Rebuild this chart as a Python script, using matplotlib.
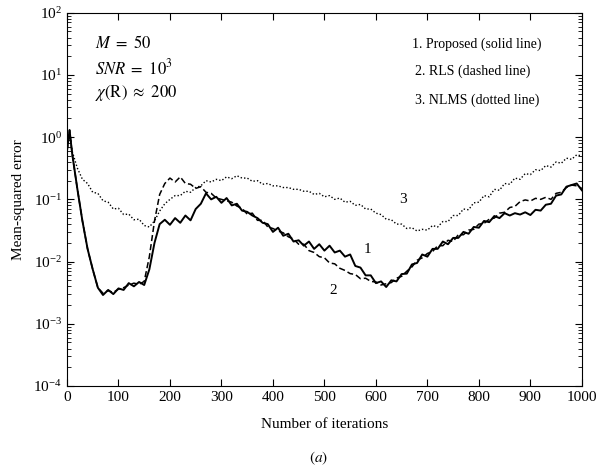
import numpy as np
import matplotlib
matplotlib.use("Agg")
import matplotlib.pyplot as plt
from matplotlib.ticker import LogLocator, NullFormatter

plt.rcParams['font.family'] = ['Liberation Serif', 'DejaVu Serif']
plt.rcParams['mathtext.fontset'] = 'stix'

# iteration index of each sample
iters = [0, 5] + list(range(10, 1001, 10))

# 1. Proposed (solid)
proposed = [0.6, 1.3, 0.55, 0.15, 0.045, 0.016, 0.0075, 0.0038, 0.0029, 0.0035,
            0.003, 0.0037, 0.0035, 0.0045, 0.004, 0.0047, 0.0042, 0.0075, 0.02, 0.04,
            0.047, 0.039, 0.05, 0.042, 0.055, 0.046, 0.07, 0.085, 0.125, 0.1,
            0.11, 0.088, 0.105, 0.08, 0.085, 0.066, 0.063, 0.055, 0.05, 0.042,
            0.04, 0.03, 0.035, 0.026, 0.028, 0.021, 0.022, 0.018, 0.021, 0.016,
            0.019, 0.015, 0.018, 0.014, 0.015, 0.012, 0.013, 0.0085, 0.008, 0.006,
            0.006, 0.0045, 0.0048, 0.0039, 0.005, 0.0048, 0.0063, 0.0064, 0.009, 0.0095,
            0.013, 0.012, 0.016, 0.016, 0.021, 0.019, 0.024, 0.024, 0.03, 0.028,
            0.036, 0.035, 0.045, 0.043, 0.054, 0.05, 0.06, 0.055, 0.06, 0.057,
            0.062, 0.056, 0.068, 0.066, 0.082, 0.085, 0.115, 0.12, 0.16, 0.17,
            0.18, 0.14]

# 2. RLS (dashed)
rls = [0.6, 1.3, 0.55, 0.15, 0.045, 0.016, 0.0075, 0.0038, 0.0031, 0.0034,
       0.0032, 0.0036, 0.0038, 0.0042, 0.0045, 0.0043, 0.0048, 0.012, 0.045, 0.12,
       0.18, 0.22, 0.19, 0.23, 0.18, 0.175, 0.15, 0.16, 0.13, 0.125,
       0.105, 0.1, 0.095, 0.09, 0.078, 0.072, 0.058, 0.06, 0.046, 0.046,
       0.036, 0.034, 0.031, 0.029, 0.025, 0.023, 0.019, 0.019, 0.015, 0.014,
       0.012, 0.0115, 0.0095, 0.0092, 0.0078, 0.0072, 0.0064, 0.0062, 0.0053, 0.0054,
       0.0048, 0.0047, 0.0042, 0.0044, 0.0046, 0.0054, 0.0058, 0.007, 0.0082, 0.0105,
       0.0115, 0.0135, 0.0145, 0.018, 0.018, 0.022, 0.021, 0.027, 0.027, 0.032,
       0.033, 0.04, 0.041, 0.048, 0.05, 0.06, 0.062, 0.074, 0.077, 0.092,
       0.098, 0.094, 0.104, 0.1, 0.108, 0.1, 0.125, 0.13, 0.155, 0.17,
       0.165, 0.15]

# 3. NLMS (dotted)
nlms = [0.6, 1.2, 0.6, 0.32, 0.21, 0.18, 0.13, 0.125, 0.095, 0.09,
        0.07, 0.072, 0.057, 0.058, 0.047, 0.048, 0.038, 0.036, 0.045, 0.065,
        0.085, 0.1, 0.115, 0.115, 0.135, 0.13, 0.155, 0.165, 0.2, 0.19,
        0.21, 0.2, 0.23, 0.215, 0.24, 0.22, 0.22, 0.195, 0.2, 0.175,
        0.18, 0.165, 0.165, 0.155, 0.155, 0.145, 0.145, 0.135, 0.135, 0.12,
        0.125, 0.11, 0.115, 0.1, 0.105, 0.09, 0.093, 0.08, 0.083, 0.07,
        0.07, 0.06, 0.057, 0.048, 0.047, 0.04, 0.04, 0.034, 0.035, 0.031,
        0.033, 0.032, 0.038, 0.036, 0.044, 0.044, 0.055, 0.055, 0.07, 0.068,
        0.088, 0.09, 0.115, 0.11, 0.145, 0.14, 0.18, 0.175, 0.22, 0.21,
        0.26, 0.25, 0.3, 0.29, 0.35, 0.33, 0.4, 0.38, 0.46, 0.44,
        0.52, 0.5]

fig = plt.figure(figsize=(5.98, 4.73), dpi=100)
ax = fig.add_axes([0.112, 0.184, 0.861, 0.789])

ax.plot(iters, proposed, color='black', lw=1.4, ls='-')
ax.plot(iters, rls, color='black', lw=1.1, ls=(0, (4, 2)))
ax.plot(iters, nlms, color='black', lw=1.0, ls=(0, (1, 1.5)))

ax.set_yscale('log')
ax.set_xlim(0, 1000)
ax.set_ylim(1e-4, 1e2)
ax.set_xticks(range(0, 1001, 100))
ax.yaxis.set_major_locator(LogLocator(base=10, numticks=10))
ax.yaxis.set_minor_locator(LogLocator(base=10, subs=np.arange(2, 10), numticks=20))
ax.yaxis.set_minor_formatter(NullFormatter())
ax.tick_params(which='both', direction='in', top=True, right=True, labelsize=11)
ax.tick_params(which='major', length=5)
ax.tick_params(which='minor', length=3)

ax.set_xlabel('Number of iterations', fontsize=11, labelpad=10)
ax.set_ylabel('Mean-squared error', fontsize=11, labelpad=6)

ax.text(0.055, 0.905, r'$M\ =\ 50$', transform=ax.transAxes, fontsize=12)
ax.text(0.055, 0.835, r'$SNR\ =\ 10^3$', transform=ax.transAxes, fontsize=12)
ax.text(0.055, 0.775, r'$\chi(\mathrm{R})\ \approx\ 200$', transform=ax.transAxes, fontsize=12)

ax.text(0.67, 0.905, '1. Proposed (solid line)', transform=ax.transAxes, fontsize=10)
ax.text(0.675, 0.835, '2. RLS (dashed line)', transform=ax.transAxes, fontsize=10)
ax.text(0.675, 0.755, '3. NLMS (dotted line)', transform=ax.transAxes, fontsize=10)

ax.text(583, 0.0155, '1', fontsize=11, ha='center', va='center')
ax.text(518, 0.0034, '2', fontsize=11, ha='center', va='center')
ax.text(652, 0.1, '3', fontsize=11, ha='center', va='center')

fig.text(0.532, 0.022, r'$(a)$', fontsize=11, ha='center')

fig.savefig('out.png', dpi=100)
